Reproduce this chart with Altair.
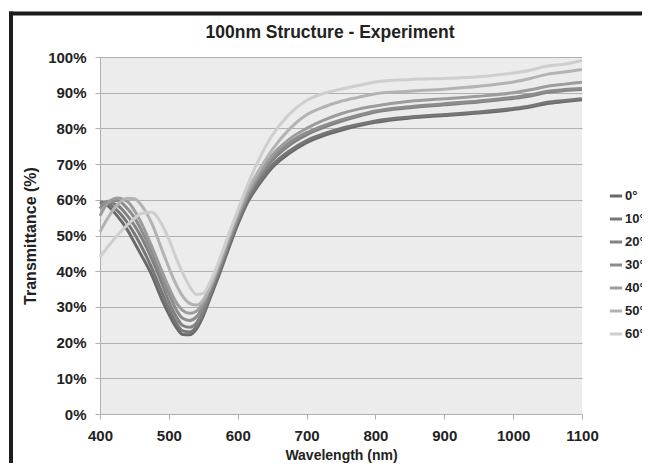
import altair as alt
import pandas as pd

wavelengths = [400, 410, 425, 440, 450, 460, 475, 490, 500, 510, 520, 530, 540, 550, 560,
               575, 590, 600, 615, 630, 650, 675, 700, 725, 750, 775, 800, 850, 900, 950,
               1000, 1025, 1050, 1075, 1100]

angles = ["0°", "10°", "20°", "30°", "40°", "50°", "60°"]

t_0 = [59.5, 58.5, 55.5, 51.5, 48.0, 44.5, 39.0, 32.0, 28.0, 24.5, 22.3, 22.2, 23.8, 27.5, 32.5,
       40.0, 48.0, 53.0, 59.5, 64.0, 69.0, 73.0, 76.0, 78.0, 79.5, 80.7, 81.7, 82.9, 83.6, 84.3,
       85.3, 86.0, 87.0, 87.5, 88.0]
t_10 = [59.3, 59.0, 57.0, 53.5, 50.5, 47.0, 41.0, 34.0, 29.5, 25.8, 23.3, 23.0, 24.5, 28.3, 33.3,
        40.8, 48.7, 53.7, 60.2, 64.7, 69.7, 73.7, 76.6, 78.5, 80.0, 81.1, 82.1, 83.2, 83.9, 84.6,
        85.6, 86.3, 87.3, 87.8, 88.3]
t_20 = [58.8, 59.3, 58.5, 55.5, 52.8, 49.5, 43.5, 36.5, 31.5, 27.5, 24.8, 24.3, 25.5, 29.0, 34.0,
        41.5, 49.3, 54.5, 61.0, 65.8, 71.0, 75.3, 78.2, 80.3, 82.0, 83.4, 84.6, 85.8, 86.6, 87.4,
        88.4, 89.1, 90.1, 90.6, 90.9]
t_30 = [57.5, 59.5, 59.8, 57.5, 55.0, 51.5, 45.5, 38.5, 33.8, 29.5, 26.8, 26.2, 27.2, 30.3, 34.8,
        42.0, 50.0, 55.0, 61.5, 66.3, 71.7, 76.0, 78.8, 80.8, 82.4, 83.7, 84.9, 86.1, 86.9, 87.7,
        88.7, 89.4, 90.4, 90.9, 91.2]
t_40 = [55.5, 58.8, 60.5, 59.5, 57.0, 53.5, 47.0, 40.0, 35.5, 31.5, 29.0, 28.2, 28.8, 31.3, 35.3,
        42.5, 50.5, 55.5, 62.0, 67.0, 72.5, 77.0, 80.0, 82.3, 84.1, 85.4, 86.3, 87.6, 88.3, 89.0,
        90.0, 90.8, 91.8, 92.4, 92.9]
t_50 = [51.0, 54.5, 58.5, 60.4, 60.3, 58.5, 53.5, 46.0, 41.0, 36.5, 33.0, 31.0, 30.5, 32.0, 35.8,
        43.3, 51.3, 56.3, 63.0, 68.0, 74.0, 79.8, 83.8, 86.0, 87.6, 88.7, 89.7, 90.4, 91.0, 91.8,
        93.0, 94.0, 95.2, 95.8, 96.5]
t_60 = [44.0, 46.5, 50.0, 53.0, 54.8, 56.2, 56.5, 53.0, 49.0, 44.0, 39.5, 35.8, 33.5, 33.8, 37.0,
        44.0, 52.0, 57.0, 64.5, 71.0, 78.0, 84.0, 87.8, 89.8, 91.0, 92.0, 93.0, 93.7, 94.0, 94.5,
        95.5, 96.3, 97.5, 98.0, 99.0]

series = [t_0, t_10, t_20, t_30, t_40, t_50, t_60]
colors = ["#6a6a6a", "#767676", "#818181", "#8c8c8c", "#9c9c9c", "#b3b3b3", "#cecece"]

x_ticks = [400, 500, 600, 700, 800, 900, 1000, 1100]
y_ticks = [0, 0.1, 0.2, 0.3, 0.4, 0.5, 0.6, 0.7, 0.8, 0.9, 1.0]
title_text = "100nm Structure - Experiment"

rows = []
for ang, vals in zip(angles, series):
    for w, v in zip(wavelengths, vals):
        rows.append({"wavelength": w, "transmittance": v / 100.0, "angle": ang})
df = pd.DataFrame(rows)

FONT = "Liberation Sans"

lines = alt.Chart(df).mark_line(strokeWidth=3, interpolate="monotone").encode(
    x=alt.X("wavelength:Q",
            scale=alt.Scale(domain=[400, 1100], nice=False, zero=False),
            axis=alt.Axis(values=x_ticks, format="d", title="Wavelength (nm)", grid=False,
                          labelFlush=False, labelPadding=9, titlePadding=5,
                          titleFontSize=14)),
    y=alt.Y("transmittance:Q",
            scale=alt.Scale(domain=[0, 1], nice=False),
            axis=alt.Axis(values=y_ticks, format=".0%", title="Transmittance (%)",
                          grid=True, labelPadding=9, titlePadding=9,
                          titleFontSize=16)),
    color=alt.Color("angle:N",
                    scale=alt.Scale(domain=angles, range=colors),
                    legend=alt.Legend(title=None, orient="none", legendX=508, legendY=131,
                                      symbolType="stroke", symbolSize=150,
                                      symbolStrokeWidth=3, labelFontSize=13,
                                      labelFont=FONT, labelFontWeight="bold",
                                      labelColor="#222222", rowPadding=8,
                                      labelOffset=1)),
    order=alt.Order("angle:N", sort="ascending"),
)

single = alt.Data(values=[{"k": 1}])
frame_left = alt.Chart(single).mark_rect(color="#1c1c1c", strokeWidth=0).encode(
    x=alt.value(-91), x2=alt.value(-87), y=alt.value(-45.5), y2=alt.value(420))
frame_top = alt.Chart(single).mark_rect(color="#1c1c1c", strokeWidth=0).encode(
    x=alt.value(-91), x2=alt.value(560), y=alt.value(-45.5), y2=alt.value(-41.5))
title = alt.Chart(single).mark_text(
    font=FONT, fontSize=17.5, fontWeight="bold", color="#222222",
    align="center", baseline="alphabetic"
).encode(x=alt.value(230), y=alt.value(-19), text=alt.value(title_text))

chart = alt.layer(lines, frame_left, frame_top, title).properties(
    width=482,
    height=357,
    padding={"left": 92, "top": 49, "right": 60, "bottom": 49},
    autosize=alt.AutoSizeParams(type="none"),
    background="white",
).configure_view(
    fill="#ececec", stroke=None
).configure_axis(
    labelFont=FONT, labelFontSize=15, labelFontWeight="bold", labelColor="#222222",
    titleFont=FONT, titleFontWeight="bold", titleColor="#222222",
    domainColor="#b0b0b0", tickColor="#b0b0b0", tickSize=5, gridColor="#b0b0b0",
    gridWidth=1,
)

chart.save("out.html", embed_options={"renderer": "svg", "actions": False})
